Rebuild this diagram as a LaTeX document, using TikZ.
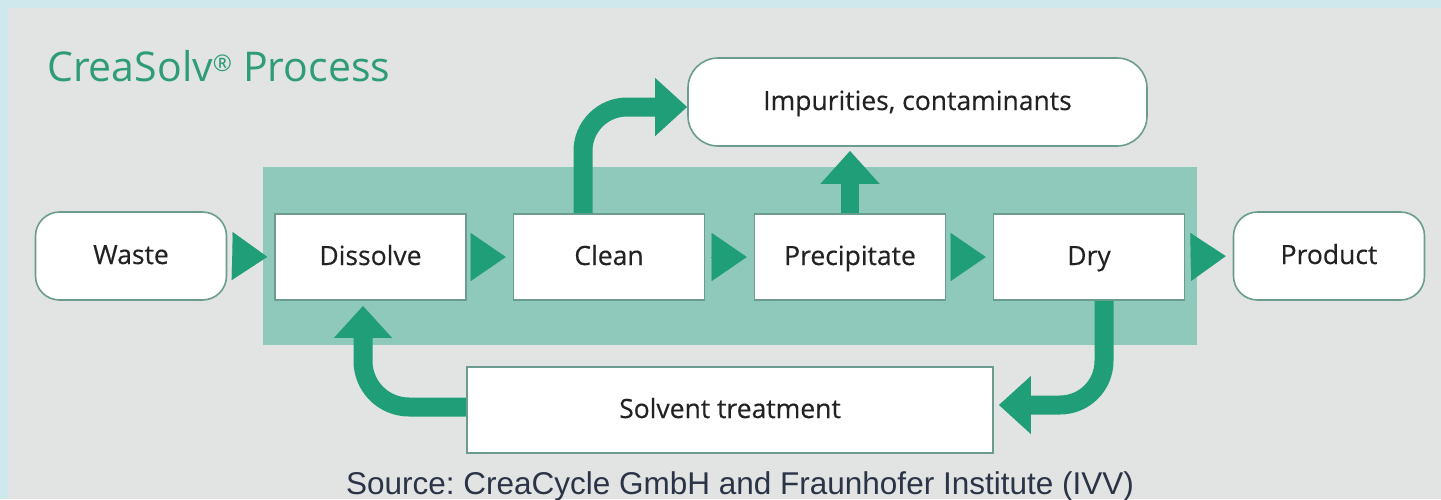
\documentclass[tikz,border=0pt]{standalone}
\usepackage{fontspec}
\setmainfont{Open Sans}
\newfontfamily\boxfont[FakeBold=0.35]{Open Sans}
\newfontfamily\srcfont{Liberation Sans}
\usetikzlibrary{arrows.meta,calc}
\definecolor{bgc}{HTML}{E2E4E3}
\definecolor{framec}{HTML}{CFE8EE}
\definecolor{bandc}{HTML}{8FC9BB}
\definecolor{arrowc}{HTML}{1F9E77}
\definecolor{edgec}{HTML}{6C9C90}
\definecolor{titlec}{HTML}{2E9C78}
\definecolor{srcc}{HTML}{2B3346}
\definecolor{txtc}{HTML}{222222}
\tikzset{
  stepbox/.style={draw=edgec, line width=1.6pt, fill=white, minimum width=191pt, minimum height=86pt, inner sep=0pt, text height=19pt, text depth=3pt, font=\boxfont\fontsize{26.5}{28}\selectfont, text=txtc},
  endbox/.style={stepbox, rounded corners=24pt, minimum height=88pt},
  smalltri/.style={arrowc, line width=0.1pt, shorten <=6pt, shorten >=7pt, -{Triangle[width=48pt,length=35pt]}},
  bigarrow/.style={arrowc, line width=19pt, -{Triangle[width=56pt,length=32pt]}},
}
\begin{document}
\begin{tikzpicture}[x=1pt,y=-1pt]
\useasboundingbox (0,0) rectangle (1441,499);
\fill[framec] (0,0) rectangle (1441,499);
\fill[bgc] (8,8) rectangle (1441,499);
\fill[bandc] (263,167) rectangle (1197,345);
\node[anchor=base west, text=titlec, font=\fontsize{41}{43}\selectfont, inner sep=0pt] (title) at (47,81) {CreaSolv\textsuperscript{\scalebox{0.8}{®}} Process};
\node[endbox] (waste) at (131,256) {Waste};
\node[stepbox] (dissolve) at (370.5,257) {Dissolve};
\node[stepbox] (clean) at (609,257) {Clean};
\node[stepbox] (precip) at (850,257) {Precipitate};
\node[stepbox] (dry) at (1089,257) {Dry};
\node[endbox] (product) at (1329,256) {Product};
\node[endbox, minimum width=459pt, rounded corners=30pt] (impur) at (917.5,102) {Impurities, contaminants};
\node[stepbox, minimum width=526pt] (solvent) at (730,410) {Solvent treatment};
\node[anchor=base, text=srcc, font=\srcfont\fontsize{31.5}{33}\selectfont\frenchspacing, inner sep=0pt] (source) at (740,494) {Source: CreaCycle GmbH and Fraunhofer Institute (IVV)};
\draw[smalltri] (waste.east) -- (dissolve.west);
\draw[smalltri] (dissolve.east) -- (clean.west);
\draw[smalltri] (clean.east) -- (precip.west);
\draw[smalltri] (precip.east) -- (dry.west);
\draw[smalltri] (dry.east) -- (product.west);
\draw[bigarrow, rounded corners=44pt] ([xshift=-26pt]clean.north) |- ([yshift=-5pt]impur.west);
\draw[bigarrow, -{Triangle[width=57pt,length=33pt]}, line width=18pt] (precip.north) -- ([yshift=-4pt]precip.north |- impur.south);
\draw[bigarrow, rounded corners=44pt] ([xshift=15pt]dry.south) |- ([xshift=5pt,yshift=5pt]solvent.east);
\draw[bigarrow, rounded corners=46pt] ([yshift=3pt]solvent.west) -| ([xshift=-7.5pt,yshift=-5pt]dissolve.south);
\end{tikzpicture}
\end{document}
